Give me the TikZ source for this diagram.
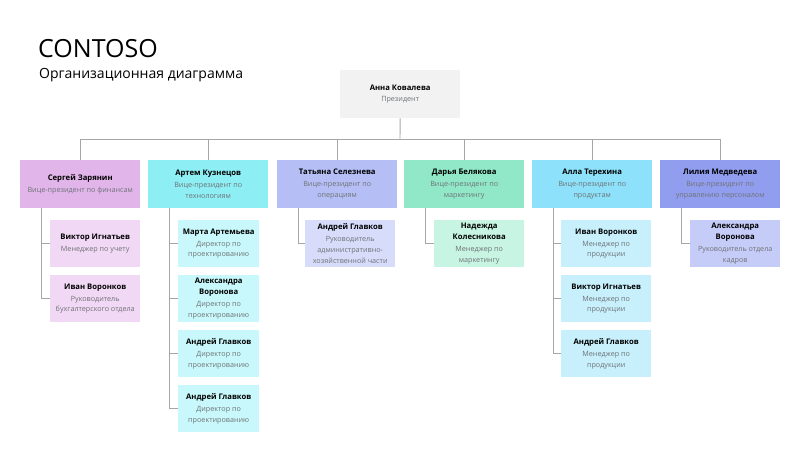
\documentclass[tikz,border=0pt]{standalone}
\usepackage{fontspec}
\setmainfont{Open Sans}
\usepackage{tikz}
\usetikzlibrary{calc}

\definecolor{presfill}{HTML}{F2F2F2}
\definecolor{fin}{HTML}{E1B5EA}
\definecolor{finL}{HTML}{F1D8F5}
\definecolor{tech}{HTML}{8DEEF4}
\definecolor{techL}{HTML}{C8F8FB}
\definecolor{ops}{HTML}{B5BFF5}
\definecolor{opsL}{HTML}{D6DCFA}
\definecolor{mkt}{HTML}{90E8C9}
\definecolor{mktL}{HTML}{C7F4E3}
\definecolor{prod}{HTML}{8DE1FA}
\definecolor{prodL}{HTML}{C7EFFC}
\definecolor{hr}{HTML}{919EEF}
\definecolor{hrL}{HTML}{C6CCF8}
\definecolor{linegray}{HTML}{A6A6A6}
\definecolor{titlegray}{HTML}{6F7376}

\newcommand{\ttl}[1]{{\fontsize{7.2}{10.5}\selectfont\color{titlegray}#1}}

\begin{document}
\begin{tikzpicture}[x=1pt,y=-1pt]
    \tikzstyle{box} = [rectangle, align=center, anchor=north west, inner sep=1pt, minimum height=48pt, font=\fontsize{7.7}{10.8}\selectfont];
    \tikzstyle{vp} = [box, minimum width=120pt];
    \tikzstyle{staff} = [box, minimum width=90pt, minimum height=47pt];
    \tikzstyle{line} = [draw, linegray, line width=0.9pt];
    \fill[white] (0,0) rectangle (796,450);
    \useasboundingbox (0,0) rectangle (796,450);

    % title
    \node[anchor=base west, inner sep=0pt, font=\fontsize{25}{30}\selectfont] (brand) at (38,57) {CONTOSO};
    \node[anchor=base west, inner sep=0pt, font=\fontsize{14}{16}\selectfont] (subtitle) at (39,78) {Организационная диаграмма};

    % president
    \node[box, fill=presfill, minimum width=120pt] (pres) at (340,70) {\textbf{Анна Ковалева}\\[1pt]\ttl{Президент}};

    % vice presidents
    \node[vp, fill=fin] (fin) at (20,160) {\textbf{Сергей Зарянин}\\[1pt]\ttl{Вице-президент по финансам}};
    \node[vp, fill=tech] (tech) at (148,160) {\textbf{Артем Кузнецов}\\[1pt]\ttl{Вице-президент по}\\\ttl{технологиям}};
    \node[vp, fill=ops] (ops) at (277,160) {\textbf{Татьяна Селезнева}\\[1pt]\ttl{Вице-президент по}\\\ttl{операциям}};
    \node[vp, fill=mkt] (mkt) at (404,160) {\textbf{Дарья Белякова}\\[1pt]\ttl{Вице-президент по}\\\ttl{маркетингу}};
    \node[vp, fill=prod] (prod) at (532,160) {\textbf{Алла Терехина}\\[1pt]\ttl{Вице-президент по}\\\ttl{продуктам}};
    \node[vp, fill=hr] (hr) at (660,160) {\textbf{Лилия Медведева}\\[1pt]\ttl{Вице-президент по}\\\ttl{управлению персоналом}};

    % staff
    \node[staff, fill=finL] (fin1) at (50,220) {\textbf{Виктор Игнатьев}\\[1pt]\ttl{Менеджер по учету}};
    \node[staff, fill=finL] (fin2) at (50,275) {\textbf{Иван Воронков}\\[1pt]\ttl{Руководитель}\\\ttl{бухгалтерского отдела}};

    \node[staff, fill=techL, minimum width=81pt] (tech1) at (178,220) {\textbf{Марта Артемьева}\\[1pt]\ttl{Директор по}\\\ttl{проектированию}};
    \node[staff, fill=techL, minimum width=81pt] (tech2) at (178,275) {\textbf{Александра}\\\textbf{Воронова}\\[1pt]\ttl{Директор по}\\\ttl{проектированию}};
    \node[staff, fill=techL, minimum width=81pt] (tech3) at (178,330) {\textbf{Андрей Главков}\\[1pt]\ttl{Директор по}\\\ttl{проектированию}};
    \node[staff, fill=techL, minimum width=81pt] (tech4) at (178,385) {\textbf{Андрей Главков}\\[1pt]\ttl{Директор по}\\\ttl{проектированию}};

    \node[staff, fill=opsL] (ops1) at (305,220) {\textbf{Андрей Главков}\\[1pt]\ttl{Руководитель}\\\ttl{административно-}\\\ttl{хозяйственной части}};

    \node[staff, fill=mktL] (mkt1) at (434,220) {\textbf{Надежда}\\\textbf{Колесникова}\\[1pt]\ttl{Менеджер по}\\\ttl{маркетингу}};

    \node[staff, fill=prodL] (prod1) at (561,220) {\textbf{Иван Воронков}\\[1pt]\ttl{Менеджер по}\\\ttl{продукции}};
    \node[staff, fill=prodL] (prod2) at (561,275) {\textbf{Виктор Игнатьев}\\[1pt]\ttl{Менеджер по}\\\ttl{продукции}};
    \node[staff, fill=prodL] (prod3) at (561,330) {\textbf{Андрей Главков}\\[1pt]\ttl{Менеджер по}\\\ttl{продукции}};

    \node[staff, fill=hrL] (hr1) at (690,220) {\textbf{Александра}\\\textbf{Воронова}\\[1pt]\ttl{Руководитель отдела}\\\ttl{кадров}};

    % connectors
    \coordinate (bus) at (400,139);
    \path[line] (pres.south) -- (bus);
    \foreach \v in {fin,tech,ops,mkt,prod,hr}
        \path[line] (bus) -| (\v.north);
    \foreach \v/\c in {fin/fin1, fin/fin2, tech/tech1, tech/tech2, tech/tech3, tech/tech4, ops/ops1, mkt/mkt1, prod/prod1, prod/prod2, prod/prod3, hr/hr1}
        \path[line] ($(\v.south west)+(21,0)$) |- (\c.west);
\end{tikzpicture}
\end{document}
